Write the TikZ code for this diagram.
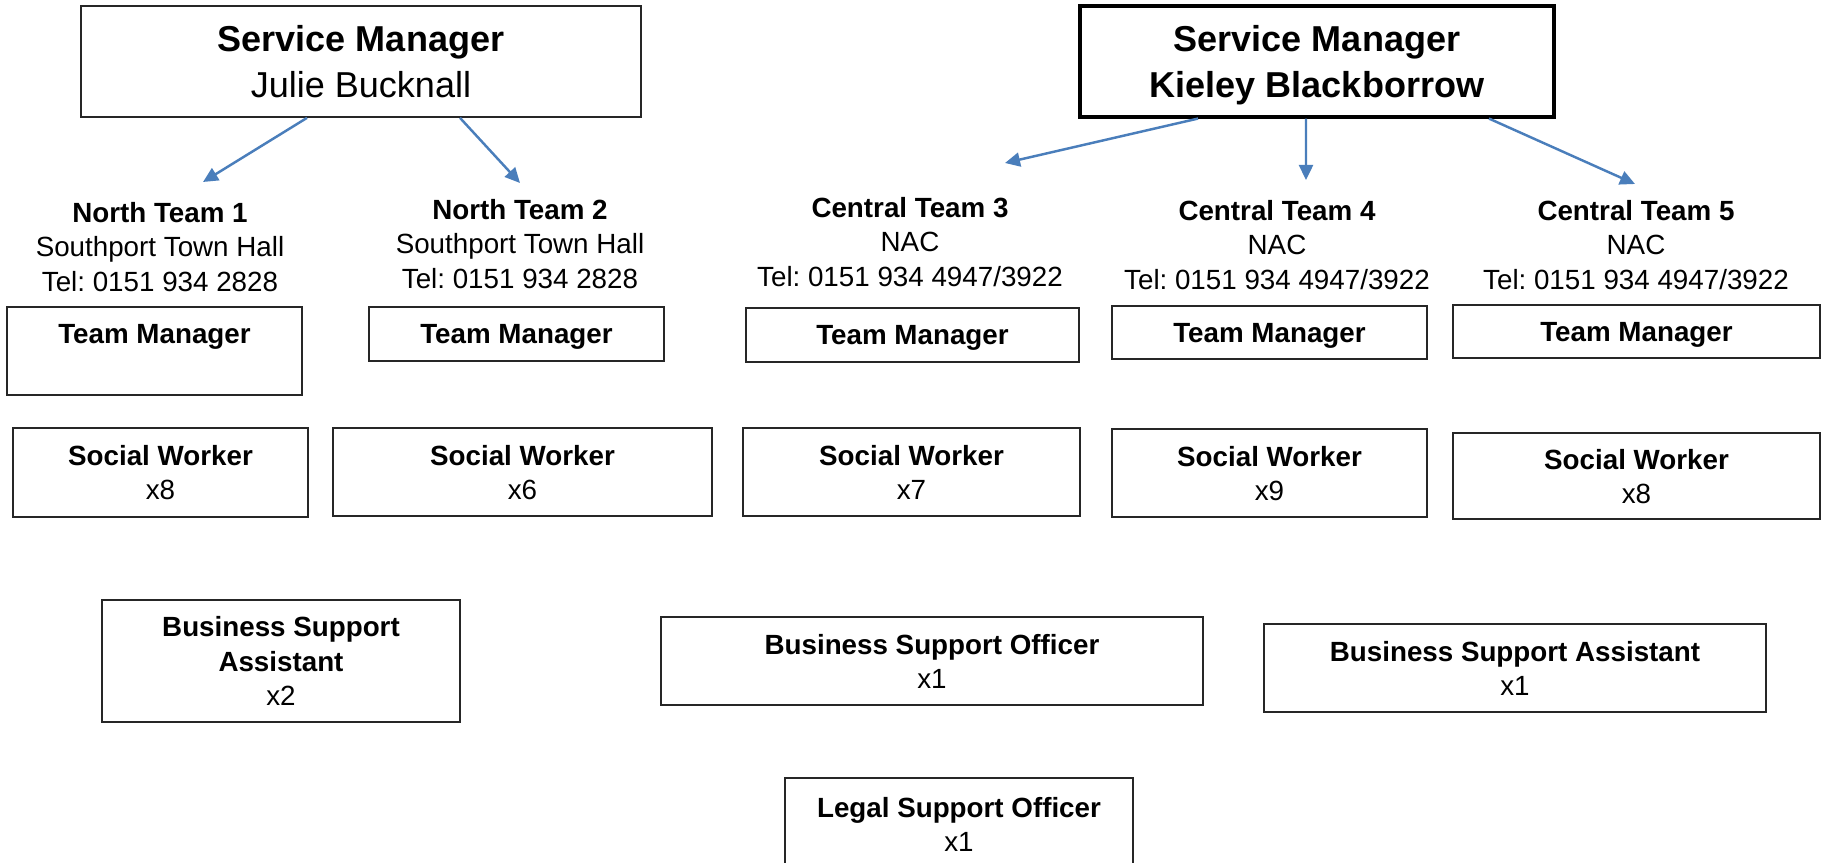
\documentclass[tikz,border=0pt]{standalone}
\usepackage{fontspec}
\setmainfont{Liberation Sans}
\usetikzlibrary{arrows.meta}
\definecolor{linkblue}{RGB}{74,126,187}
\newcommand{\bigtxt}{\fontsize{20.5pt}{26pt}\selectfont}
\newcommand{\smtxt}{\fontsize{15.8pt}{19.4pt}\selectfont}
\frenchspacing

\begin{document}
\begin{tikzpicture}[
    box/.style={draw=black!85, line width=1pt, inner sep=0pt, align=center, text depth=0pt, font=\smtxt},
    head/.style={inner sep=0pt, align=center, font=\smtxt},
    conn/.style={-{Triangle[length=0.3cm, width=0.28cm]}, linkblue, line width=1.4pt}]
  \useasboundingbox (0, 0) rectangle (36.5, 17.26);
  \clip (0, 0) rectangle (36.5, 17.26);

    \node[box, font=\bigtxt, minimum width=11.2cm, minimum height=2.22cm] (sm1) at(7.22, 16.03){\textbf{Service Manager}\\Julie Bucknall};
    \node[box, font=\bigtxt, line width=1.8pt, draw=black, minimum width=9.48cm, minimum height=2.22cm] (sm2) at(26.34, 16.03){\textbf{Service Manager}\\\textbf{Kieley Blackborrow}};

    \coordinate (t1tip) at(4.06, 13.62);
    \coordinate (t2tip) at(10.4, 13.6);
    \coordinate (t3tip) at(20.1, 14.0);
    \coordinate (t4tip) at(26.12, 13.66);
    \coordinate (t5tip) at(32.7, 13.58);
      \draw[conn]([xshift=-1.08cm]sm1.south) -- (t1tip);
      \draw[conn]([xshift=1.98cm]sm1.south) -- (t2tip);
      \draw[conn]([xshift=-2.38cm]sm2.south) -- (t3tip);
      \draw[conn]([xshift=-0.22cm]sm2.south) -- (t4tip);
      \draw[conn]([xshift=3.44cm]sm2.south) -- (t5tip);

    \node[head] (nt1) at(3.2, 12.32){\textbf{North Team 1}\\Southport Town Hall\\Tel: 0151 934 2828};
    \node[head] (nt2) at(10.4, 12.38){\textbf{North Team 2}\\Southport Town Hall\\Tel: 0151 934 2828};
    \node[head] (ct3) at(18.2, 12.42){\textbf{Central Team 3}\\NAC\\Tel: 0151 934 4947/3922};
    \node[head] (ct4) at(25.54, 12.36){\textbf{Central Team 4}\\NAC\\Tel: 0151 934 4947/3922};
    \node[head] (ct5) at(32.72, 12.36){\textbf{Central Team 5}\\NAC\\Tel: 0151 934 4947/3922};

    \node[box, minimum width=5.9cm, minimum height=1.76cm] (tm1) at(3.09, 10.24){\textbf{Team Manager}\\~};
    \node[box, minimum width=5.9cm, minimum height=1.08cm] (tm2) at(10.33, 10.58){\textbf{Team Manager}};
    \node[box, minimum width=6.66cm, minimum height=1.08cm] (tm3) at(18.25, 10.56){\textbf{Team Manager}};
    \node[box, minimum width=6.3cm, minimum height=1.06cm] (tm4) at(25.39, 10.61){\textbf{Team Manager}};
    \node[box, minimum width=7.34cm, minimum height=1.06cm] (tm5) at(32.73, 10.63){\textbf{Team Manager}};

    \node[box, minimum width=5.9cm, minimum height=1.78cm] (sw1) at(3.21, 7.81){\textbf{Social Worker}\\x8};
    \node[box, minimum width=7.58cm, minimum height=1.76cm] (sw2) at(10.45, 7.82){\textbf{Social Worker}\\x6};
    \node[box, minimum width=6.74cm, minimum height=1.76cm] (sw3) at(18.23, 7.82){\textbf{Social Worker}\\x7};
    \node[box, minimum width=6.3cm, minimum height=1.76cm] (sw4) at(25.39, 7.8){\textbf{Social Worker}\\x9};
    \node[box, minimum width=7.34cm, minimum height=1.72cm] (sw5) at(32.73, 7.74){\textbf{Social Worker}\\x8};

    \node[box, minimum width=7.16cm, minimum height=2.44cm] (bsa1) at(5.62, 4.04){\textbf{Business Support}\\\textbf{Assistant}\\x2};
    \node[box, minimum width=10.84cm, minimum height=1.76cm] (bso) at(18.64, 4.04){\textbf{Business Support Officer}\\x1};
    \node[box, minimum width=10.04cm, minimum height=1.76cm] (bsa2) at(30.3, 3.9){\textbf{Business Support Assistant}\\x1};
    \node[box, minimum width=6.96cm, minimum height=1.86cm] (lso) at(19.18, 0.77){\textbf{Legal Support Officer}\\x1};
\end{tikzpicture}
\end{document}
